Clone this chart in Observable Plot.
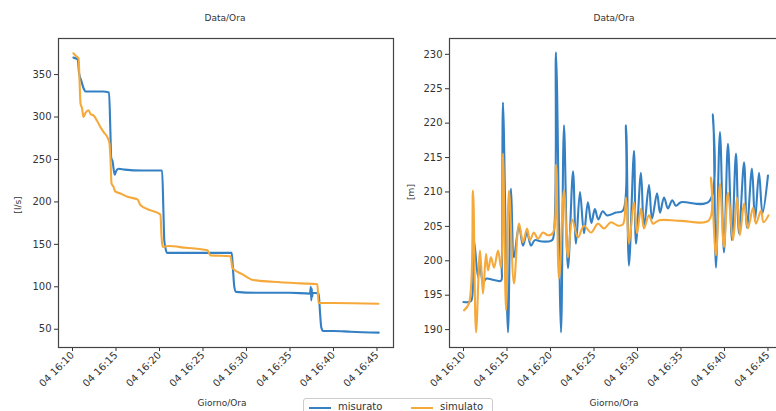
<!DOCTYPE html>
<html>
<head>
<meta charset="utf-8">
<script src="https://cdn.jsdelivr.net/npm/d3@7"></script>
<script src="https://cdn.jsdelivr.net/npm/@observablehq/plot@0.6"></script>
<style>
  html, body { margin: 0; padding: 0; background: #fff; width: 776px; height: 411px; overflow: hidden; }
  #wrap { position: relative; width: 776px; height: 411px; font-family: "DejaVu Sans", sans-serif; color: #333; }
  .abs { position: absolute; white-space: nowrap; }
  .title { font-size: 9px; transform: translateX(-50%); }
  .ylab { font-size: 9px; transform: translate(-50%, -50%) rotate(-90deg); }
  #legend { position: absolute; left: 303px; top: 398px; width: 188px; height: 22px; border: 1px solid #ccc; border-radius: 3px; background: #fff; font-size: 10px; }
  .sw { position: absolute; top: 8px; width: 22px; height: 0; border-top: 2px solid; }
</style>
</head>
<body>
<div id="wrap"></div>
<script>
// ---- data (minutes after 16:00 on day 04) ----
const seriesNames = ["misurato", "simulato"];
const seriesColors = ["#3580c3", "#f6a93b"];

const xTicks = [10, 15, 20, 25, 30, 35, 40, 45];
const xTickLabels = ["04 16:10", "04 16:15", "04 16:20", "04 16:25", "04 16:30", "04 16:35", "04 16:40", "04 16:45"];
const flowTicks = [50, 100, 150, 200, 250, 300, 350];
const headTicks = [190, 195, 200, 205, 210, 215, 220, 225, 230];

// Left panel: flow [l/s]
const flowMeasT = [10.1,10.6,10.75,11.0,11.3,11.5,12.5,13.5,14.2,14.35,14.45,14.6,14.85,15.0,15.3,16.0,18.0,20.3,20.45,20.55,20.7,20.85,22.0,25.0,28.3,28.45,28.6,28.8,31.0,35.0,37.3,37.4,37.45,37.5,37.55,37.6,38.3,38.45,38.6,38.8,40.0,42.0,45.2];
const flowMeasV = [370,368,352,343,333,330,330,330,329,285,252,248,232,236,239,238,237,237,190,155,145,140,140,140,140,120,100,94,93,93,92,100,84,98,88,93,92,70,52,48,48,47,46];
const flowSimT = [10.1,10.4,10.7,10.8,10.92,11.1,11.26,11.5,11.84,12.1,12.41,12.8,13.22,13.6,14.02,14.25,14.37,14.48,14.7,14.94,15.5,16.32,17.47,17.82,19.0,20.11,20.23,20.35,21.0,23.0,25.52,25.86,28.16,28.39,29.5,30.8,33.0,36.2,38.16,38.28,40.0,45.17];
const flowSimV = [375,372,369,345,316,310,300,305,308,303,302,296,288,282,276,269,250,222,218,212,210,206,203,196,190,185,160,147,148,146,143,137,136,122,115,108,106,104,103,81,81,80];

// Right panel: head [m]
const headMeasT = [10.0,10.6,10.9,11.2,11.67,11.9,12.24,12.59,13.5,14.31,14.4,14.54,15.11,15.46,15.8,16.38,16.84,17.3,17.76,18.2,19.0,20.06,20.29,20.63,21.21,21.55,22.01,22.59,22.93,23.39,23.85,24.3,24.7,25.1,25.5,26.0,26.5,27.5,28.33,28.68,29.02,29.6,29.83,30.4,30.75,31.32,31.67,32.25,32.59,33.05,33.5,34.0,34.4,35.0,38.22,38.68,39.02,39.48,39.94,40.4,40.86,41.32,41.67,42.25,42.59,43.16,43.51,43.97,44.37,45.0];
const headMeasV = [194,194,194.2,203,197.6,199.6,196.8,197.4,197.2,197.1,198.9,223,189.6,210.5,200.5,205.1,202.2,204.1,202.2,203,202.8,202.9,203.2,230.3,189.6,219.7,198.9,213,202.5,210,204,208.5,205.5,207.5,206,207.2,206.6,207,207.3,219.7,199.3,216,202.5,212.8,204.8,211,206.1,209.8,207,209.2,207.6,208.8,208,208.5,208.6,221.3,199,218.7,201.2,217,203,215.6,204,214.3,204.8,213.4,205.8,212.8,206.9,212.4];
const headSimT = [10.06,10.63,11.09,11.44,11.9,12.24,12.59,12.82,13.16,13.51,13.97,14.31,14.54,14.89,15.23,15.8,16.38,16.84,17.3,17.64,18.1,18.56,19.14,19.71,20.29,20.63,20.98,21.55,22.01,22.5,23.16,23.85,24.66,25.46,26.15,26.95,27.76,28.33,28.68,29.02,29.6,29.94,30.4,30.75,31.32,31.79,32.5,35.0,38.22,38.45,39.02,39.48,39.94,40.4,40.98,41.44,41.78,42.25,42.7,43.28,43.62,44.2,44.49,45.06];
const headSimV = [192.8,193.8,210.2,189.6,201.5,195.2,201,198.6,200.5,199,201.5,199,215.6,192.8,210.2,196.7,205.4,202.7,204.7,203,204.1,203.2,204.1,203.7,204.1,213.9,197.4,210.2,200.5,206,203.4,205.1,204.1,205.4,204.7,205.6,205.1,205.3,209.2,202.5,208.5,204,207.6,204.7,206.6,205.4,205.9,205.8,205.9,212.1,200.8,211.2,202,209.9,203,209.2,203.7,208.3,204.7,207.7,205.4,207.3,205.6,206.6];

// ---- build ----
const toRows = (T, V, s) => T.map((t, i) => ({t, v: V[i], s}));
const fmtX = d => xTickLabels[xTicks.indexOf(d)];
const wrap = document.getElementById("wrap");

function panel(rows, yDomain, yTicks, opts) {
  const p = Plot.plot({
    width: opts.width, height: 411,
    marginLeft: opts.ml, marginRight: opts.mr, marginTop: 38, marginBottom: 64,
    style: {fontFamily: "DejaVu Sans, sans-serif", fontSize: "10px", color: "#333", background: "transparent", overflow: "visible"},
    x: {domain: [8.39, 46.9]},
    y: {domain: yDomain},
    marks: [
      Plot.axisY({ticks: yTicks, tickSize: 4, tickPadding: 3, label: null}),
      Plot.axisX({ticks: xTicks, tickFormat: fmtX, tickRotate: -45, tickSize: 4, tickPadding: 2, label: null}),
      ...seriesNames.map((n, k) => Plot.line(rows.filter(r => r.s === n), {
        x: "t", y: "v", stroke: seriesColors[k], strokeWidth: 2.1, curve: opts.curve
      })),
      Plot.frame({stroke: "#444", strokeWidth: 1.2})
    ]
  });
  p.style.position = "absolute";
  p.style.left = opts.left + "px";
  p.style.top = "0px";
  wrap.appendChild(p);
}

panel([...toRows(flowMeasT, flowMeasV, "misurato"), ...toRows(flowSimT, flowSimV, "simulato")],
      [28.5, 392.5], flowTicks, {width: 400, ml: 58, mr: 7, left: 0, curve: "monotone-x"});
panel([...toRows(headMeasT, headMeasV, "misurato"), ...toRows(headSimT, headSimV, "simulato")],
      [187.4, 232.3], headTicks, {width: 394, ml: 59, mr: 0, left: 390, curve: "catmull-rom"});

function addText(txt, cls, x, y) {
  const d = document.createElement("div");
  d.className = "abs " + cls;
  d.textContent = txt;
  d.style.left = x + "px";
  d.style.top = y + "px";
  wrap.appendChild(d);
}
addText("Data/Ora", "title", 225, 13);
addText("Data/Ora", "title", 614, 13);
addText("Giorno/Ora", "title", 222, 398);
addText("Giorno/Ora", "title", 614, 398);
addText("[l/s]", "ylab", 18, 205);
addText("[m]", "ylab", 411, 192);

const leg = document.createElement("div");
leg.id = "legend";
const legPos = [[5, 34], [107, 136]];
seriesNames.forEach((n, k) => {
  const sw = document.createElement("div");
  sw.className = "sw";
  sw.style.left = legPos[k][0] + "px";
  sw.style.borderTopColor = seriesColors[k];
  leg.appendChild(sw);
  const t = document.createElement("div");
  t.className = "abs";
  t.style.left = legPos[k][1] + "px";
  t.style.top = "2px";
  t.textContent = n;
  leg.appendChild(t);
});
wrap.appendChild(leg);
</script>
</body>
</html>
